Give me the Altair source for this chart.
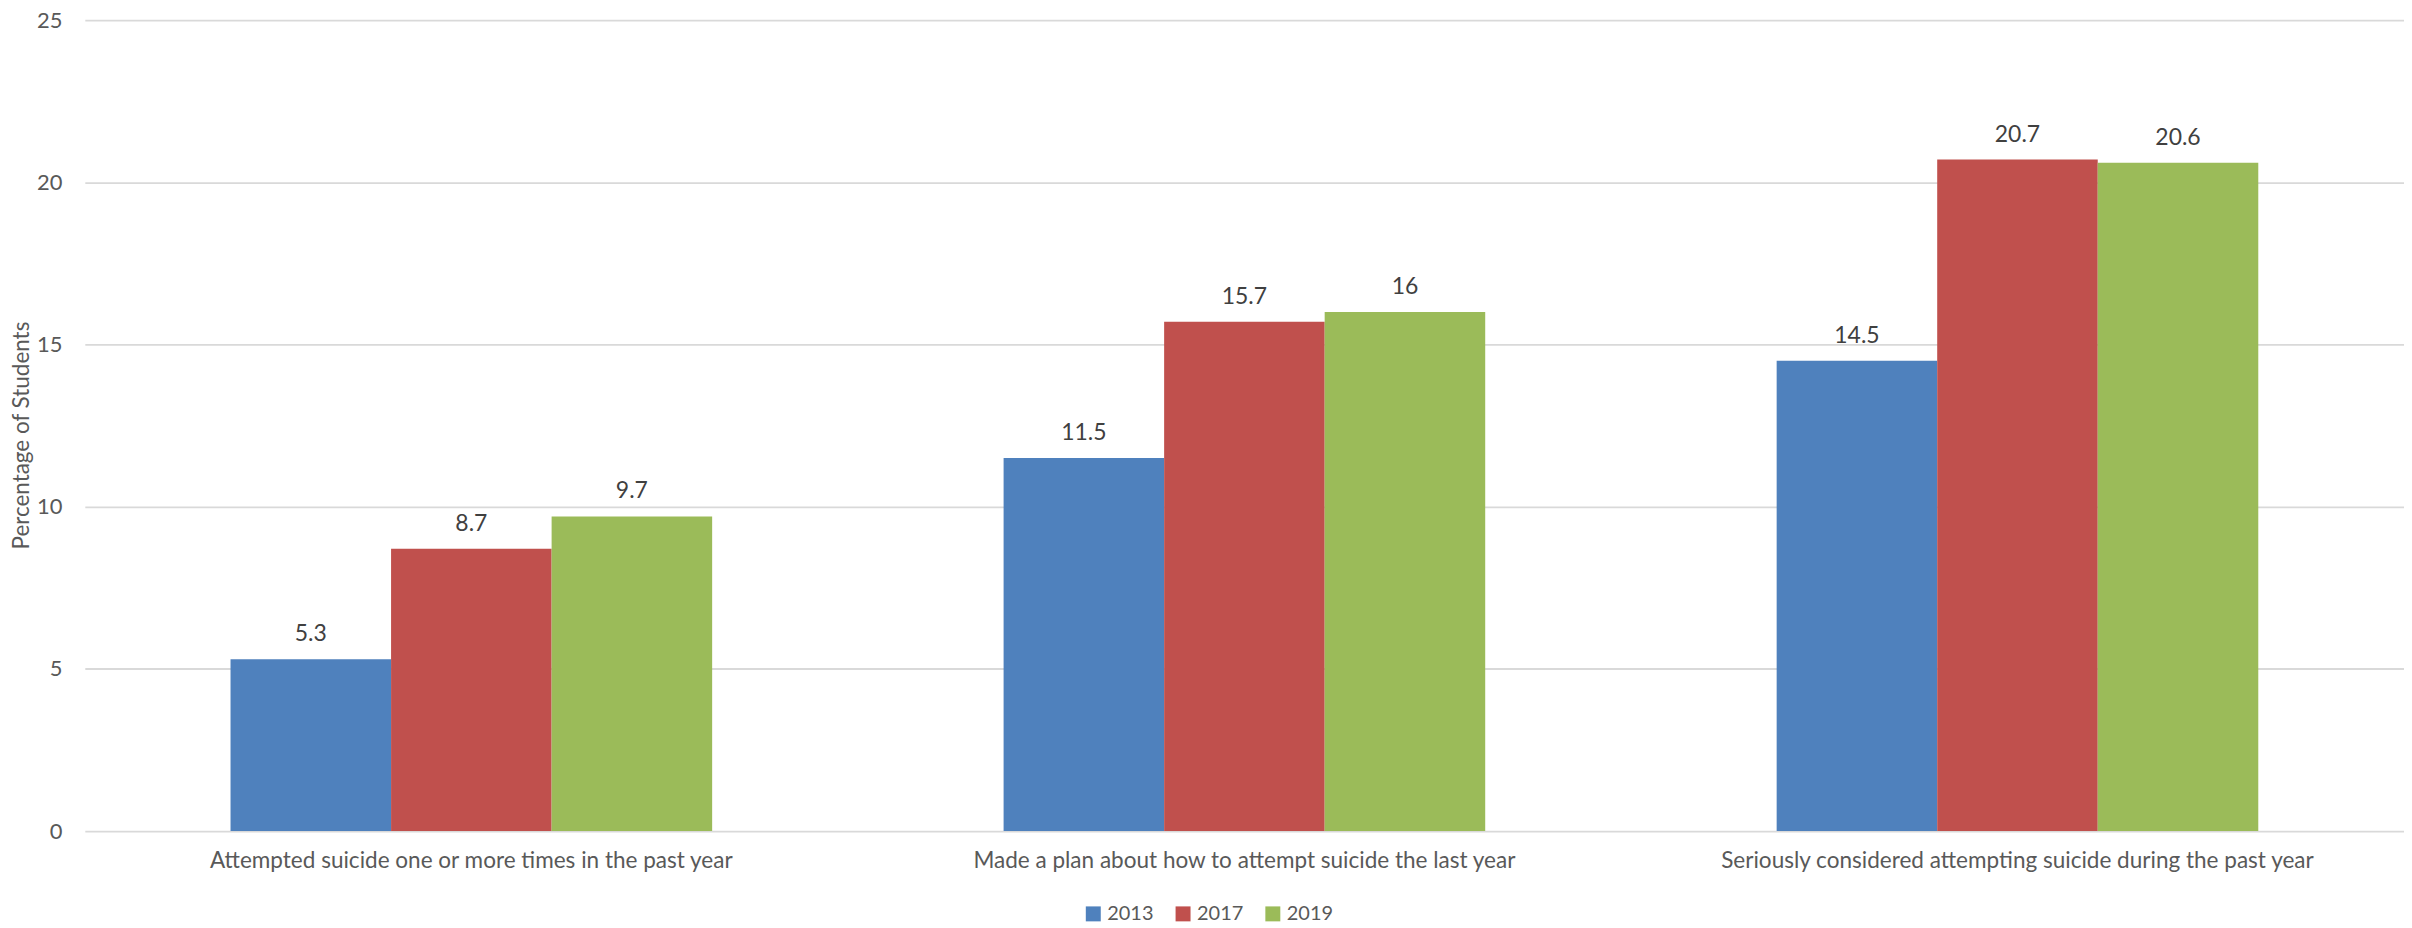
import altair as alt
import pandas as pd

categories = [
    "Attempted suicide one or more times in the past year",
    "Made a plan about how to attempt suicide the last year",
    "Seriously considered attempting suicide during the past year",
]
years = ["2013", "2017", "2019"]
values_2013 = [5.3, 11.5, 14.5]
values_2017 = [8.7, 15.7, 20.7]
values_2019 = [9.7, 16.0, 20.6]
labels_2013 = ["5.3", "11.5", "14.5"]
labels_2017 = ["8.7", "15.7", "20.7"]
labels_2019 = ["9.7", "16", "20.6"]
colors = ["#4F81BD", "#C0504D", "#9BBB59"]
y_ticks = [0, 5, 10, 15, 20, 25]

rows = []
for yr, vals, labs in zip(years, [values_2013, values_2017, values_2019],
                          [labels_2013, labels_2017, labels_2019]):
    for c, v, l in zip(categories, vals, labs):
        rows.append({"category": c, "year": yr, "value": v, "label": l})
df = pd.DataFrame(rows)

FONT = "Lato"

x = alt.X(
    "category:N",
    sort=categories,
    scale=alt.Scale(paddingInner=0.377, paddingOuter=0.1885),
    axis=alt.Axis(
        title=None, labelAngle=0, labelFontSize=22.6, labelColor="#595959",
        labelFont=FONT, labelPadding=19, labelLimit=0, domain=False,
        ticks=False, grid=False,
    ),
)
xo = alt.XOffset("year:N", sort=years)
y = alt.Y(
    "value:Q",
    scale=alt.Scale(domain=[0, 25], nice=False),
    axis=alt.Axis(
        values=y_ticks, title="Percentage of Students", titleFont=FONT,
        titleFontSize=22.5, titleFontWeight="normal", titleColor="#595959",
        titleX=-63, titleY=416, titleAngle=270, titleAlign="center",
        titleBaseline="middle",
        labelFont=FONT, labelFontSize=22, labelColor="#595959",
        labelPadding=23, domain=False, ticks=False,
        grid=True, gridColor="#D9D9D9", gridWidth=1.8,
    ),
)

bars = alt.Chart(df).mark_bar().encode(
    x=x, xOffset=xo, y=y,
    color=alt.Color(
        "year:N", sort=years,
        scale=alt.Scale(domain=years, range=colors),
        legend=alt.Legend(
            title=None, orient="none", direction="horizontal",
            legendX=1001, legendY=886, symbolType="square", symbolSize=225,
            symbolStrokeWidth=0, labelFont=FONT, labelFontSize=20,
            labelColor="#595959", labelOffset=4, columnPadding=19,
        ),
    ),
)

text = alt.Chart(df).mark_text(
    baseline="bottom", dy=-13, font=FONT, fontSize=23, color="#404040"
).encode(x=x, xOffset=xo, y=alt.Y("value:Q"), text="label:N")

chart = (
    alt.layer(bars, text)
    .properties(
        width=2325, height=813,
        autosize=alt.AutoSizeParams(type="none"),
        padding={"left": 77, "top": 11, "right": 0, "bottom": 96},
        background="white",
    )
    .configure_view(stroke=None)
)

chart.save("out.html", embed_options={"renderer": "svg", "actions": False})
